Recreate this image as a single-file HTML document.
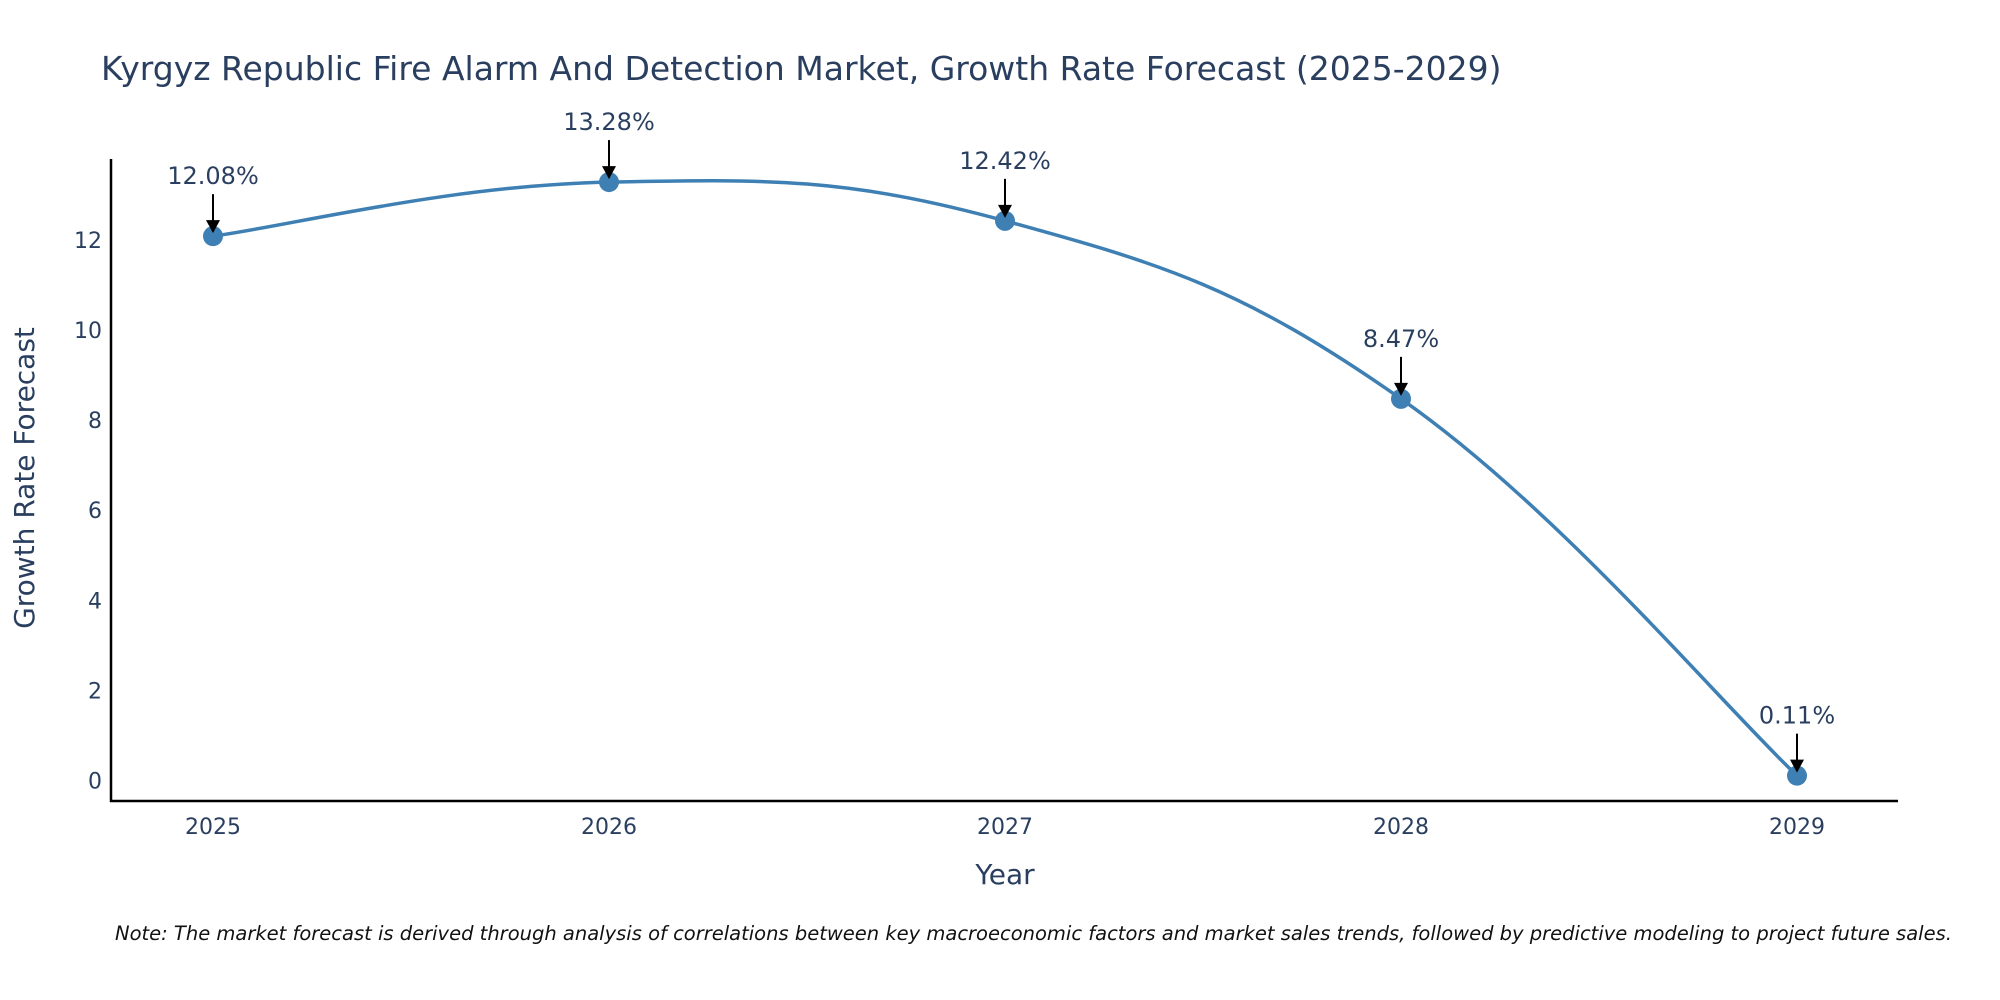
<!DOCTYPE html>
<html><head><meta charset="utf-8"><style>
body{margin:0;background:#fff;}
svg{display:block;font-family:"DejaVu Sans","Liberation Sans",sans-serif;}
</style></head><body>
<svg id="chart" width="2000" height="1000">
<text x="101" y="80" font-size="33" fill="#2a3f5f">Kyrgyz Republic Fire Alarm And Detection Market, Growth Rate Forecast (2025-2029)</text>
<g id="axes"></g>
<path id="line" fill="none" stroke="#3f80b4" stroke-width="3.5"></path>
<g id="marks"></g>
<text x="1005" y="884" font-size="28" fill="#2a3f5f" text-anchor="middle">Year</text>
<text transform="translate(34,478) rotate(-90)" font-size="28" fill="#2a3f5f" text-anchor="middle">Growth Rate Forecast</text>
<text x="115" y="940" font-size="19.5" font-style="italic" fill="#111">Note: The market forecast is derived through analysis of correlations between key macroeconomic factors and market sales trends, followed by predictive modeling to project future sales.</text>
</svg>
<script>
const years=[2025,2026,2027,2028,2029];
const values=[12.08,13.28,12.42,8.47,0.11];
const labels=["12.08%","13.28%","12.42%","8.47%","0.11%"];
const yTicks=[0,2,4,6,8,10,12];
const NS="http://www.w3.org/2000/svg";
const x0=213,x1=1797,yZero=780.6,yPer=45.07;
function xs(v){return x0+(v-years[0])*(x1-x0)/(years[years.length-1]-years[0]);}
function ys(v){return yZero-v*yPer;}
function mk(t,a,p){const e=document.createElementNS(NS,t);for(const k in a)e.setAttribute(k,a[k]);p.appendChild(e);return e;}
const ax=document.getElementById('axes');
let l=mk('line',{x1:111,y1:159,x2:111,y2:802,stroke:'#000','stroke-width':2.5},ax);


l=mk('line',{x1:110,y1:801,x2:1898,y2:801,stroke:'#000','stroke-width':2.5},ax);


yTicks.forEach(t=>{const e=mk('text',{x:102,y:ys(t)+8,'font-size':22,fill:'#2a3f5f','text-anchor':'end'},ax);e.textContent=t;

});
years.forEach(t=>{const e=mk('text',{x:xs(t),y:834,'font-size':22,fill:'#2a3f5f','text-anchor':'middle'},ax);e.textContent=t;

});
const P=years.map((y,i)=>[xs(y),ys(values[i])]);
let d='M'+P[0][0]+','+P[0][1];
for(let i=0;i<P.length-1;i++){const p0=P[Math.max(i-1,0)],p1=P[i],p2=P[i+1],p3=P[Math.min(i+2,P.length-1)];
const c1=[p1[0]+(p2[0]-p0[0])/5,p1[1]+(p2[1]-p0[1])/5],c2=[p2[0]-(p3[0]-p1[0])/5,p2[1]-(p3[1]-p1[1])/5];
d+=` C${c1[0]},${c1[1]} ${c2[0]},${c2[1]} ${p2[0]},${p2[1]}`;}
document.getElementById('line').setAttribute('d',d);
const mg=document.getElementById('marks');
P.forEach((p,i)=>{const c=mk('circle',{cx:p[0],cy:p[1],r:10,fill:'#3f80b4'},mg);


const a=mk('line',{x1:p[0],y1:p[1]-42,x2:p[0],y2:p[1]-12,stroke:'#000','stroke-width':2},mg);


const h=mk('polygon',{points:`${p[0]-7},${p[1]-16} ${p[0]+7},${p[1]-16} ${p[0]},${p[1]-3}`,fill:'#000'},mg);


const t=mk('text',{x:p[0],y:p[1]-52,'font-size':24,fill:'#2a3f5f','text-anchor':'middle'},mg);t.textContent=labels[i];

});
</script>
</body></html>
